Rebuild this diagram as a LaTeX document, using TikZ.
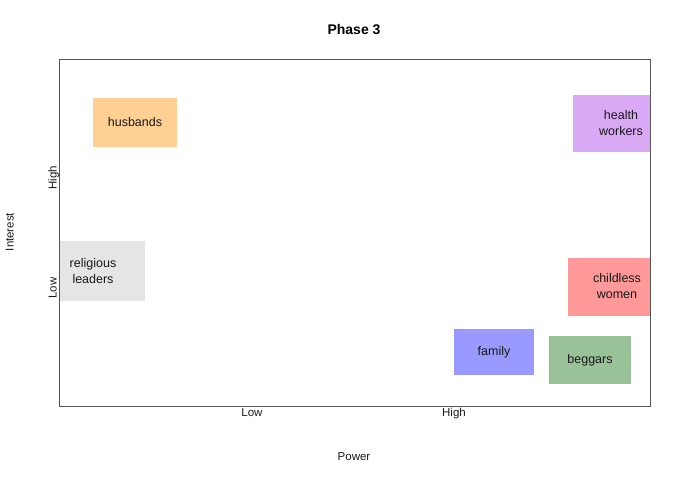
\documentclass[tikz,border=0pt]{standalone}
\usepackage{fontspec}
\setmainfont{Liberation Sans}
\definecolor{cHus}{HTML}{FFD094}
\definecolor{cHea}{HTML}{D9A9F5}
\definecolor{cRel}{HTML}{E5E5E5}
\definecolor{cChi}{HTML}{FF9999}
\definecolor{cFam}{HTML}{9999FF}
\definecolor{cBeg}{HTML}{99C299}
\definecolor{frame}{HTML}{555555}
\tikzset{
  stake/.style={rectangle, inner sep=0pt, align=center, font=\fontsize{12.5}{16}\selectfont, text=black!90},
  axlab/.style={inner sep=0pt, text height=8.5pt, text depth=2.5pt, font=\fontsize{11.5}{14}\selectfont, text=black!90},
}
\begin{document}
\begin{tikzpicture}[x=1pt,y=-1pt]
\useasboundingbox (0,0) rectangle (680,480);
\node[font=\bfseries\fontsize{14}{16}\selectfont] (title) at (354,30) {Phase 3};
\coordinate (plotNW) at (59,59);
\coordinate (plotSE) at (650,406);
\begin{scope}
\clip (plotNW) rectangle (plotSE);
\node[stake, fill=cHus, minimum width=84pt, minimum height=49pt] (husbands) at (135,122.5) {husbands};
\node[stake, fill=cHea, minimum width=96pt, minimum height=57pt] (health) at (621,123.5) {health\\workers};
\node[stake, fill=cRel, minimum width=104pt, minimum height=60pt] (religious) at (93,271) {religious\\leaders};
\node[stake, fill=cChi, minimum width=98pt, minimum height=58pt] (childless) at (617,286.5) {childless\\women};
\node[stake, fill=cFam, minimum width=80pt, minimum height=46pt] (family) at (494,352) {family};
\node[stake, fill=cBeg, minimum width=82pt, minimum height=48pt] (beggars) at (590,360) {beggars};
\end{scope}
\draw[frame, line width=1pt] (plotNW) rectangle (plotSE);
\node[axlab] (xlow) at (252,413.5) {Low};
\node[axlab] (xhigh) at (454,413.5) {High};
\node[axlab, rotate=90] (yhigh) at (53.5,178) {High};
\node[axlab, rotate=90] (ylow) at (53.5,288) {Low};
\node[axlab, rotate=90] (ylabel) at (10.5,232) {Interest};
\node[axlab] (xlabel) at (354,457) {Power};
\end{tikzpicture}
\end{document}
